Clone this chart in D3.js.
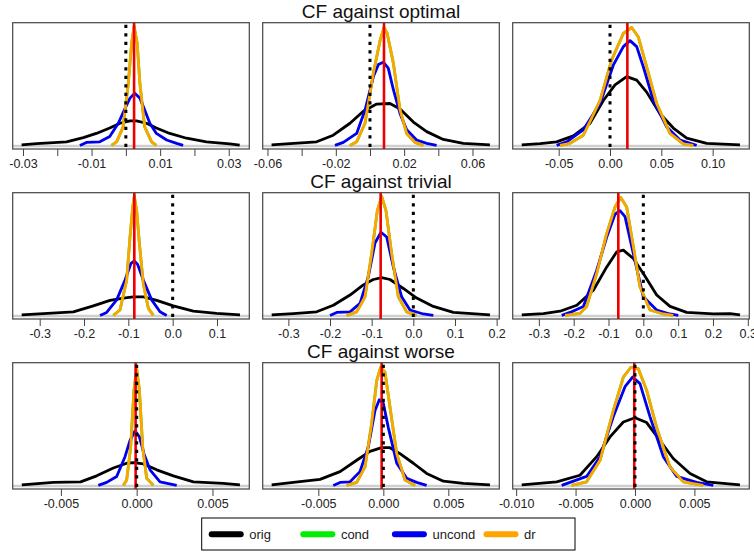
<!DOCTYPE html>
<html lang="en">
  <head>
    <meta charset="utf-8" />
    <title>CF density comparison</title>
    <style>
      body {
        margin: 0;
        background: #fff;
      }
      svg {
        display: block;
        font-family: 'Liberation Sans', Arial, sans-serif;
      }
      .box {
        fill: none;
        stroke: #444;
        stroke-width: 1.2;
      }
      .zero {
        stroke: #cfcfcf;
        stroke-width: 2.5;
      }
      .curve {
        fill: none;
        stroke-width: 2.8;
        stroke-linejoin: round;
      }
      .tick text {
        font-size: 12.5px;
        fill: #222;
      }
      .tick line {
        stroke: #444;
      }
    </style>
    <script src="https://d3js.org/d3.v7.min.js"></script>
  </head>

  <body>
    <svg width="754" height="552"></svg>

    <script>
      // ---- data (x value, height as a share of the panel's tallest peak) ----
      const rowTitles = ['CF against optimal', 'CF against trivial', 'CF against worse'];
      const seriesNames = ['orig', 'cond', 'uncond', 'dr'];

      // row 1: against optimal
      const opt1_orig = [[-0.0304,0.01],[-0.026,0.02],[-0.0173,0.035],[-0.0124,0.07],[-0.0086,0.105],[-0.0047,0.15],[-0.0017,0.19],[0.0012,0.21],[0.0031,0.21],[0.006,0.19],[0.0089,0.15],[0.0128,0.105],[0.0177,0.065],[0.0235,0.035],[0.0303,0.017],[0.0332,0.008]];
      const opt1_uncond = [[-0.0134,0.005],[-0.0115,0.03],[-0.0076,0.035],[-0.0047,0.08],[-0.0022,0.19],[-0.0003,0.31],[0.0012,0.4],[0.0026,0.44],[0.0041,0.4],[0.0055,0.3],[0.007,0.19],[0.0089,0.105],[0.0119,0.05],[0.0148,0.022],[0.0167,0.005]];
      const opt1_dr = [[-0.0042,0.005],[-0.0027,0.035],[-0.0008,0.16],[0.0007,0.52],[0.0017,0.86],[0.0024,1.0],[0.0033,0.86],[0.0041,0.52],[0.0055,0.16],[0.0075,0.035],[0.0089,0.005]];

      const opt2_orig = [[-0.0576,0.01],[-0.0468,0.02],[-0.0312,0.035],[-0.0215,0.09],[-0.0117,0.19],[-0.0039,0.29],[0.0039,0.35],[0.0117,0.355],[0.0176,0.31],[0.0254,0.2],[0.0332,0.12],[0.0429,0.055],[0.0546,0.022],[0.0702,0.01]];
      const opt2_uncond = [[-0.0205,0.005],[-0.0156,0.03],[-0.0078,0.105],[-0.0029,0.3],[0.002,0.58],[0.0049,0.68],[0.0078,0.7],[0.0107,0.65],[0.0137,0.47],[0.0176,0.27],[0.0215,0.135],[0.0273,0.05],[0.0332,0.022],[0.039,0.005]];
      const opt2_dr = [[-0.0117,0.005],[-0.0078,0.035],[-0.0029,0.19],[0.002,0.61],[0.0059,0.88],[0.0082,0.99],[0.0101,0.94],[0.0137,0.69],[0.0176,0.3],[0.0215,0.105],[0.0263,0.03],[0.0312,0.005]];

      const opt3_orig = [[-0.086,0.01],[-0.068,0.02],[-0.052,0.035],[-0.0357,0.085],[-0.0195,0.19],[-0.0065,0.38],[0.0049,0.51],[0.0162,0.58],[0.026,0.55],[0.0357,0.45],[0.0487,0.27],[0.0617,0.15],[0.0747,0.065],[0.0942,0.022],[0.1266,0.01]];
      const opt3_uncond = [[-0.052,0.005],[-0.0422,0.035],[-0.026,0.135],[-0.0097,0.355],[0.0032,0.675],[0.013,0.83],[0.0195,0.88],[0.026,0.83],[0.0325,0.66],[0.0422,0.38],[0.0552,0.16],[0.0682,0.05],[0.0844,0.005]];
      const opt3_dr = [[-0.0487,0.005],[-0.039,0.022],[-0.026,0.09],[-0.0097,0.38],[0.0016,0.72],[0.013,0.94],[0.0211,0.99],[0.0276,0.91],[0.0357,0.66],[0.0455,0.355],[0.0584,0.105],[0.0714,0.017],[0.0812,0.005]];

      // row 2: against trivial
      const triv1_orig = [[-0.3406,0.01],[-0.2917,0.02],[-0.224,0.035],[-0.179,0.085],[-0.1414,0.13],[-0.111,0.15],[-0.0887,0.16],[-0.066,0.16],[-0.036,0.13],[0.0015,0.085],[0.0466,0.04],[0.0992,0.022],[0.1519,0.01]];
      const triv1_uncond = [[-0.1639,0.005],[-0.1489,0.03],[-0.1263,0.135],[-0.1075,0.3],[-0.094,0.44],[-0.0865,0.46],[-0.079,0.43],[-0.0662,0.3],[-0.0474,0.135],[-0.0286,0.035],[-0.0135,0.005]];
      const triv1_dr = [[-0.1338,0.005],[-0.1188,0.05],[-0.1038,0.3],[-0.0962,0.66],[-0.0902,0.91],[-0.0865,1.0],[-0.0812,0.88],[-0.0752,0.61],[-0.0662,0.27],[-0.0549,0.064],[-0.0436,0.005]];

      const triv2_orig = [[-0.34,0.01],[-0.288,0.02],[-0.232,0.035],[-0.192,0.09],[-0.152,0.175],[-0.12,0.26],[-0.096,0.305],[-0.076,0.32],[-0.056,0.305],[-0.024,0.23],[0.008,0.15],[0.048,0.08],[0.096,0.03],[0.184,0.01]];
      const triv2_uncond = [[-0.2,0.005],[-0.184,0.03],[-0.152,0.035],[-0.128,0.105],[-0.108,0.33],[-0.092,0.61],[-0.0776,0.7],[-0.064,0.66],[-0.048,0.41],[-0.028,0.16],[-0.008,0.05],[0.024,0.017],[0.048,0.005]];
      const triv2_dr = [[-0.16,0.005],[-0.136,0.035],[-0.116,0.16],[-0.1,0.52],[-0.0864,0.88],[-0.076,1.0],[-0.0656,0.88],[-0.052,0.52],[-0.036,0.16],[-0.016,0.035],[0.008,0.005]];

      const triv3_orig = [[-0.349,0.01],[-0.287,0.02],[-0.239,0.04],[-0.191,0.09],[-0.1435,0.215],[-0.105,0.41],[-0.0766,0.535],[-0.0574,0.55],[-0.0287,0.48],[0,0.355],[0.0383,0.175],[0.0766,0.08],[0.1244,0.03],[0.201,0.017],[0.2488,0.02],[0.2775,0.01]];
      const triv3_uncond = [[-0.2344,0.005],[-0.2105,0.03],[-0.1722,0.08],[-0.134,0.38],[-0.105,0.66],[-0.0813,0.85],[-0.067,0.88],[-0.0526,0.83],[-0.0287,0.52],[0,0.16],[0.0383,0.05],[0.0766,0.017],[0.1005,0.005]];
      const triv3_dr = [[-0.2249,0.005],[-0.1818,0.022],[-0.1627,0.08],[-0.134,0.355],[-0.105,0.69],[-0.0813,0.91],[-0.065,0.99],[-0.0478,0.91],[-0.0287,0.58],[-0.0096,0.245],[0.0191,0.05],[0.0574,0.017],[0.0861,0.005]];

      // row 3: against worse
      const worse1_orig = [[-0.00758,0.01],[-0.0055,0.03],[-0.0037,0.035],[-0.00264,0.085],[-0.00154,0.15],[-0.00066,0.19],[-0.00022,0.195],[0.00044,0.185],[0.00132,0.135],[0.00242,0.085],[0.00374,0.035],[0.00571,0.022],[0.00681,0.01]];
      const worse1_uncond = [[-0.00253,0.005],[-0.00198,0.03],[-0.00132,0.08],[-0.00077,0.245],[-0.00044,0.38],[-0.00011,0.46],[0.00018,0.41],[0.00048,0.27],[0.00088,0.135],[0.00154,0.035],[0.00264,0.005]];
      const worse1_dr = [[-0.00088,0.005],[-0.00066,0.05],[-0.0004,0.32],[-0.00018,0.8],[0,0.98],[0.00018,0.8],[0.0004,0.32],[0.00066,0.064],[0.0011,0.005]];

      const worse2_orig = [[-0.00859,0.01],[-0.00692,0.03],[-0.00487,0.055],[-0.00333,0.12],[-0.00205,0.215],[-0.00103,0.29],[-0.00013,0.32],[0.00051,0.32],[0.00128,0.27],[0.00231,0.19],[0.00333,0.105],[0.00462,0.04],[0.00615,0.022],[0.0082,0.01]];
      const worse2_uncond = [[-0.00385,0.005],[-0.00333,0.03],[-0.00256,0.035],[-0.0018,0.12],[-0.00115,0.33],[-0.00064,0.63],[-0.00031,0.72],[0,0.69],[0.00038,0.49],[0.00103,0.19],[0.0018,0.064],[0.00256,0.03],[0.00333,0.005]];
      const worse2_dr = [[-0.00282,0.005],[-0.00205,0.03],[-0.00141,0.16],[-0.0009,0.52],[-0.00051,0.88],[-0.00021,0.99],[0.00013,0.95],[0.00051,0.66],[0.00103,0.27],[0.00167,0.05],[0.00244,0.005]];

      const worse3_orig = [[-0.00953,0.01],[-0.00659,0.035],[-0.00463,0.09],[-0.00322,0.245],[-0.0021,0.41],[-0.00098,0.535],[0,0.57],[0.00098,0.53],[0.0021,0.38],[0.00322,0.23],[0.00463,0.105],[0.00603,0.035],[0.00883,0.01]];
      const worse3_uncond = [[-0.00617,0.005],[-0.00547,0.03],[-0.00407,0.08],[-0.00294,0.245],[-0.00182,0.58],[-0.00084,0.83],[-0.0002,0.91],[0.00042,0.855],[0.00126,0.58],[0.00238,0.245],[0.00351,0.08],[0.00519,0.03],[0.00659,0.005]];
      const worse3_dr = [[-0.00533,0.005],[-0.00407,0.035],[-0.00294,0.215],[-0.00182,0.63],[-0.00098,0.91],[-0.00036,0.99],[0.00028,0.98],[0.00098,0.8],[0.00182,0.49],[0.00294,0.16],[0.00407,0.035],[0.00575,0.005]];

      // the cond curves sit right under dr and cannot be told apart in the picture
      const condSameAsDr = true;

      // red lines (estimate) per panel
      const estimates = [
        [0.0024, 0.0082, 0.0169],
        [-0.0865, -0.0784, -0.0718],
        [-0.00007, -0.00013, -0.00006],
      ];

      const xDomains = [
        [[-0.033, 0.036], [-0.0628, 0.0757], [-0.0948, 0.1357]],
        [[-0.3609, 0.1729], [-0.3616, 0.2064], [-0.3751, 0.3043]],
        [[-0.00818, 0.00743], [-0.00928, 0.00892], [-0.01029, 0.00962]],
      ];

      const xTicks = [
        [[-0.03, -0.02, -0.01, 0, 0.01, 0.02, 0.03], [-0.06, -0.04, -0.02, 0, 0.02, 0.04, 0.06], [-0.05, 0, 0.05, 0.1]],
        [[-0.3, -0.2, -0.1, 0, 0.1], [-0.3, -0.2, -0.1, 0, 0.1, 0.2], [-0.3, -0.2, -0.1, 0, 0.1, 0.2, 0.3]],
        [[-0.005, 0, 0.005], [-0.005, 0, 0.005], [-0.01, -0.005, 0, 0.005]],
      ];
      const xTickLabels = [
        [['-0.03', '', '-0.01', '', '0.01', '', '0.03'], ['-0.06', '', '-0.02', '', '0.02', '', '0.06'], ['-0.05', '0.00', '0.05', '0.10']],
        [['-0.3', '-0.2', '-0.1', '0.0', '0.1'], ['-0.3', '-0.2', '-0.1', '0.0', '0.1', '0.2'], ['-0.3', '-0.2', '-0.1', '0.0', '0.1', '0.2', '0.3']],
        [['-0.005', '0.000', '0.005'], ['-0.005', '0.000', '0.005'], ['-0.010', '-0.005', '0.000', '0.005']],
      ];

      const curves = [
        [
          { orig: opt1_orig, uncond: opt1_uncond, dr: opt1_dr },
          { orig: opt2_orig, uncond: opt2_uncond, dr: opt2_dr },
          { orig: opt3_orig, uncond: opt3_uncond, dr: opt3_dr },
        ],
        [
          { orig: triv1_orig, uncond: triv1_uncond, dr: triv1_dr },
          { orig: triv2_orig, uncond: triv2_uncond, dr: triv2_dr },
          { orig: triv3_orig, uncond: triv3_uncond, dr: triv3_dr },
        ],
        [
          { orig: worse1_orig, uncond: worse1_uncond, dr: worse1_dr },
          { orig: worse2_orig, uncond: worse2_uncond, dr: worse2_dr },
          { orig: worse3_orig, uncond: worse3_uncond, dr: worse3_dr },
        ],
      ];
      curves.forEach((row) =>
        row.forEach((p) => {
          if (condSameAsDr) p.cond = p.dr;
        }),
      );

      // ---- drawing ----
      const colors = {
        orig: '#000000',
        cond: '#00ee00',
        uncond: '#0000ee',
        dr: '#ffa500',
      };

      const svg = d3.select('svg');
      const colW = 250,
        rowH = 170;
      const box = { left: 12.7, right: 249.3, top: 22.7, bottom: 149 };

      rowTitles.forEach((title, r) => {
        svg
          .append('text')
          .attr('x', colW + (box.left + box.right) / 2)
          .attr('y', r * rowH + 17.5)
          .attr('text-anchor', 'middle')
          .style('font-size', '19px')
          .style('fill', '#111')
          .text(title);

        for (let c = 0; c < 3; c++) {
          const g = svg
            .append('g')
            .attr('transform', `translate(${c * colW},${r * rowH})`);

          const x = d3
            .scaleLinear()
            .domain(xDomains[r][c])
            .range([box.left, box.right]);
          const y = d3
            .scaleLinear()
            .domain([-0.025, 1.03])
            .range([box.bottom, box.top]);

          const line = d3
            .line()
            .x((d) => x(d[0]))
            .y((d) => y(d[1]));

          // zero line
          g.append('line')
            .attr('class', 'zero')
            .attr('x1', box.left)
            .attr('x2', box.right)
            .attr('y1', y(0))
            .attr('y2', y(0));

          seriesNames.forEach((s) => {
            g.append('path')
              .attr('class', 'curve')
              .attr('d', line(curves[r][c][s]))
              .attr('stroke', colors[s]);
          });

          // estimate
          g.append('line')
            .attr('x1', x(estimates[r][c]))
            .attr('x2', x(estimates[r][c]))
            .attr('y1', box.top)
            .attr('y2', box.bottom)
            .attr('stroke', '#ee0000')
            .attr('stroke-width', 2.6);

          // zero reference
          g.append('line')
            .attr('x1', x(0))
            .attr('x2', x(0))
            .attr('y1', box.top + 2)
            .attr('y2', box.bottom)
            .attr('stroke', '#000')
            .attr('stroke-width', 3)
            .attr('stroke-dasharray', '3.2,5.3');

          g.append('rect')
            .attr('class', 'box')
            .attr('x', box.left)
            .attr('y', box.top)
            .attr('width', box.right - box.left)
            .attr('height', box.bottom - box.top);

          const labels = xTickLabels[r][c];
          const axis = d3
            .axisBottom(x)
            .tickValues(xTicks[r][c])
            .tickSize(7)
            .tickPadding(3)
            .tickFormat((d, i) => labels[i]);
          g.append('g')
            .attr('transform', `translate(0,${box.bottom})`)
            .call(axis)
            .call((a) => a.select('.domain').remove())
            .call((a) => a.selectAll('text').attr('font-family', null));
        }
      });

      // ---- legend ----
      const legend = svg.append('g').attr('transform', 'translate(201.7,518)');
      legend
        .append('rect')
        .attr('width', 373.3)
        .attr('height', 32)
        .attr('fill', '#fff')
        .attr('stroke', '#000')
        .attr('stroke-width', 1);
      seriesNames.forEach((s, i) => {
        const lx = 10 + i * 91.6;
        legend
          .append('line')
          .attr('x1', lx)
          .attr('x2', lx + 29)
          .attr('y1', 16.3)
          .attr('y2', 16.3)
          .attr('stroke', colors[s])
          .attr('stroke-width', 6)
          .attr('stroke-linecap', 'round');
        legend
          .append('text')
          .attr('x', lx + 37.6)
          .attr('y', 21)
          .style('font-size', '13px')
          .style('fill', '#222')
          .text(s);
      });
    </script>
  </body>
</html>
